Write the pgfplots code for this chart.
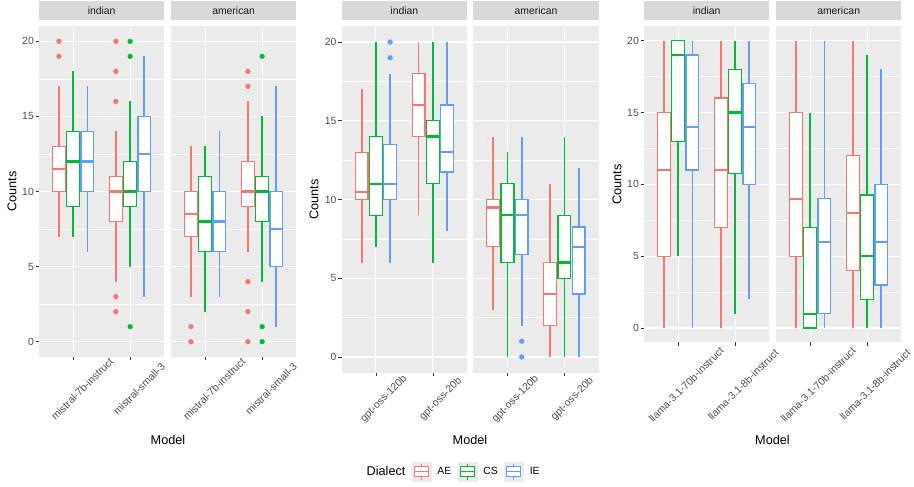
\documentclass[border=0pt]{standalone}
\usepackage{fontspec}
\setmainfont{Liberation Sans}
\usepackage{pgfplots}
\pgfplotsset{compat=1.18}
\usepgfplotslibrary{statistics}
\definecolor{panelbg}{HTML}{EBEBEB}
\definecolor{stripbg}{HTML}{D9D9D9}
\definecolor{stripfg}{HTML}{1A1A1A}
\definecolor{tickcol}{HTML}{333333}
\definecolor{ticklab}{HTML}{4D4D4D}
\definecolor{aecol}{HTML}{F8766D}
\definecolor{cscol}{HTML}{00BA38}
\definecolor{iecol}{HTML}{619CFF}
\definecolor{keybg}{HTML}{EBEBEB}
\newcommand{\smallfont}{\fontsize{10.4}{12}\selectfont}
\newcommand{\titlefont}{\fontsize{12.7}{15}\selectfont}
\pgfplotsset{
  facet/.style={
    scale only axis, width=125.3pt,
    xmin=0.4, xmax=2.6, ymin=-1, ymax=21,
    axis background/.style={fill=panelbg},
    axis lines=left, axis line style={draw=none},
    xtick={1,2}, ytick={0,5,10,15,20}, minor ytick={2.5,7.5,12.5,17.5},
    grid=both,
    major grid style={white, line width=1.1pt},
    minor grid style={white, line width=0.55pt},
    tick align=outside, major tick length=3.3pt, minor tick length=0pt,
    tick style={color=tickcol, line width=0.6pt},
    /pgf/number format/assume math mode=true,
    ticklabel style={font=\smallfont, text=ticklab},
    yticklabel style={inner sep=0pt, xshift=-1.7pt},
    title style={at={(0.5,1)}, anchor=south, yshift=0pt, fill=stripbg,
      minimum width=125.3pt, minimum height=19.4pt, inner sep=0pt,
      font=\smallfont, text=stripfg},
    clip=false,
    boxplot/draw direction=y,
  },
  noy/.style={yticklabels={}, ytick style={draw=none}},
  boxkey/.style={legend image code/.code={
    \fill[keybg] (0pt,-9.2pt) rectangle (19pt,9.2pt);
    \draw[line width=0.9pt] (9.5pt,-8pt) -- (9.5pt,-5pt) (9.5pt,5pt) -- (9.5pt,8pt);
    \draw[line width=0.9pt, fill=white] (2.5pt,-5pt) rectangle (16.5pt,5pt);
    \draw[line width=1.2pt] (2.5pt,0pt) -- (16.5pt,0pt);
  }},
}
% whiskers as plain line plots, box and median from boxplot prepared
\newcommand{\bx}[7]{%
\addplot[draw=#1, line width=1.8pt, mark=none] coordinates {(#2,#3) (#2,#4)};
\addplot[draw=#1, line width=1.8pt, mark=none] coordinates {(#2,#6) (#2,#7)};
\addplot[draw=#1, fill=white, line width=1.3pt, mark=none,
  boxplot/every box/.style={draw=#1, fill=white, line width=1.3pt},
  boxplot/every median/.style={draw=#1, line width=2.3pt},
  boxplot/draw/lower whisker/.code={},
  boxplot/draw/upper whisker/.code={},
  boxplot prepared={draw direction=y, draw position=#2, lower whisker=#3, lower quartile=#4, median=#5, upper quartile=#6, upper whisker=#7, box extend=0.225, whisker extend=0}] coordinates {};}
\newcommand{\outl}[2]{\addplot[only marks, mark=*, mark size=2.4pt, color=#1, mark options={draw=#1, fill=#1}] coordinates {#2};}
\begin{document}
\begin{tikzpicture}
\useasboundingbox (0pt,0pt) rectangle (914pt,-487pt);
% ---------------- Panel 1 ----------------
\begin{axis}[facet, at={(39pt,-356.7pt)}, anchor=south west, height=330.4pt,
  title={indian}, xticklabels={mistral-7b-instruct, mistral-small-3},
  xticklabel style={anchor=center, xshift=9pt, yshift=-29pt, rotate=45}]
\bx{aecol}{0.75}{7}{10}{11.5}{13}{17}
\outl{aecol}{(0.75,19) (0.75,20)}
\bx{cscol}{1}{7}{9}{12}{14}{18}
\bx{iecol}{1.25}{6}{10}{12}{14}{17}
\bx{aecol}{1.75}{4}{8}{10}{11}{14}
\outl{aecol}{(1.75,20) (1.75,18) (1.75,16) (1.75,3) (1.75,2)}
\bx{cscol}{2}{5}{9}{10}{12}{16}
\outl{cscol}{(2,20) (2,19) (2,1)}
\bx{iecol}{2.25}{3}{10}{12.5}{15}{19}
\end{axis}
\begin{axis}[facet, noy, at={(171pt,-356.7pt)}, anchor=south west, height=330.4pt,
  title={american}, xticklabels={mistral-7b-instruct, mistral-small-3},
  xticklabel style={anchor=center, xshift=9pt, yshift=-29pt, rotate=45}]
\bx{aecol}{0.75}{3}{7}{8.5}{10}{13}
\outl{aecol}{(0.75,1) (0.75,0)}
\bx{cscol}{1}{2}{6}{8}{11}{13}
\bx{iecol}{1.25}{3}{6}{8}{10}{14}
\bx{aecol}{1.75}{6}{9}{10}{12}{16}
\outl{aecol}{(1.75,18) (1.75,17) (1.75,4) (1.75,2) (1.75,0)}
\bx{cscol}{2}{4}{8}{10}{11}{15}
\outl{cscol}{(2,19) (2,1) (2,0)}
\bx{iecol}{2.25}{1}{5}{7.5}{10}{17}
\end{axis}
% ---------------- Panel 2 ----------------
\begin{axis}[facet, at={(341.7pt,-372.75pt)}, anchor=south west, height=346.45pt,
  title={indian}, xticklabels={gpt-oss-120b, gpt-oss-20b},
  xticklabel style={anchor=center, xshift=8pt, yshift=-23pt, rotate=45},
  legend style={at={(0.149,-0.2856)}, anchor=west, draw=none, fill=none,
    inner sep=0pt, outer sep=0pt, legend columns=4, font=\smallfont,
    text=black, column sep=3.3pt, nodes={inner xsep=3pt, inner ysep=0pt}},
  legend cell align=left]
\addlegendimage{empty legend}
\addlegendentry{\titlefont Dialect}
\addlegendimage{aecol, boxkey}
\addlegendentry{AE}
\addlegendimage{cscol, boxkey}
\addlegendentry{CS}
\addlegendimage{iecol, boxkey}
\addlegendentry{IE}
\bx{aecol}{0.75}{6}{10}{10.5}{13}{17}
\bx{cscol}{1}{7}{9}{11}{14}{20}
\bx{iecol}{1.25}{6}{10}{11}{13.5}{18}
\outl{iecol}{(1.25,19) (1.25,20)}
\bx{aecol}{1.75}{9}{14}{16}{18}{20}
\bx{cscol}{2}{6}{11}{14}{15}{20}
\bx{iecol}{2.25}{8}{11.75}{13}{16}{20}
\end{axis}
\begin{axis}[facet, noy, at={(473.3pt,-372.75pt)}, anchor=south west, height=346.45pt,
  title={american}, xticklabels={gpt-oss-120b, gpt-oss-20b},
  xticklabel style={anchor=center, xshift=8pt, yshift=-23pt, rotate=45}]
\bx{aecol}{0.75}{3}{7}{9.5}{10}{14}
\bx{cscol}{1}{0}{6}{9}{11}{13}
\bx{iecol}{1.25}{2}{6.5}{9}{10}{14}
\outl{iecol}{(1.25,1) (1.25,0)}
\bx{aecol}{1.75}{0}{2}{4}{6}{11}
\bx{cscol}{2}{0}{5}{6}{9}{14}
\bx{iecol}{2.25}{0}{4}{7}{8.25}{12}
\end{axis}
% ---------------- Panel 3 ----------------
\begin{axis}[facet, at={(644pt,-342.4pt)}, anchor=south west, height=316.1pt,
  title={indian}, xticklabels={llama-3.1-70b-instruct, llama-3.1-8b-instruct},
  xticklabel style={anchor=center, xshift=8pt, yshift=-39pt, rotate=45}]
\bx{aecol}{0.75}{0}{5}{11}{15}{20}
\bx{cscol}{1}{5}{13}{19}{20}{20}
\bx{iecol}{1.25}{0}{11}{14}{19}{20}
\bx{aecol}{1.75}{0}{7}{11}{16}{20}
\bx{cscol}{2}{1}{10.75}{15}{18}{20}
\bx{iecol}{2.25}{2}{10}{14}{17}{20}
\end{axis}
\begin{axis}[facet, noy, at={(776pt,-342.4pt)}, anchor=south west, height=316.1pt,
  title={american}, xticklabels={llama-3.1-70b-instruct, llama-3.1-8b-instruct},
  xticklabel style={anchor=center, xshift=8pt, yshift=-39pt, rotate=45}]
\bx{aecol}{0.75}{0}{5}{9}{15}{20}
\bx{cscol}{1}{0}{0}{1}{7}{15}
\bx{iecol}{1.25}{0}{1}{6}{9}{20}
\bx{aecol}{1.75}{0}{4}{8}{12}{20}
\bx{cscol}{2}{0}{2}{5}{9.25}{19}
\bx{iecol}{2.25}{0}{3}{6}{10}{18}
\end{axis}
% ---------------- Axis titles ----------------
\node[rotate=90, font=\titlefont] at (12pt,-191.5pt) {Counts};
\node[rotate=90, font=\titlefont] at (314pt,-199.5pt) {Counts};
\node[rotate=90, font=\titlefont] at (617pt,-184.4pt) {Counts};
\node[font=\titlefont] at (168pt,-440pt) {Model};
\node[font=\titlefont] at (470pt,-440pt) {Model};
\node[font=\titlefont] at (772.5pt,-440pt) {Model};
\end{tikzpicture}
\end{document}
